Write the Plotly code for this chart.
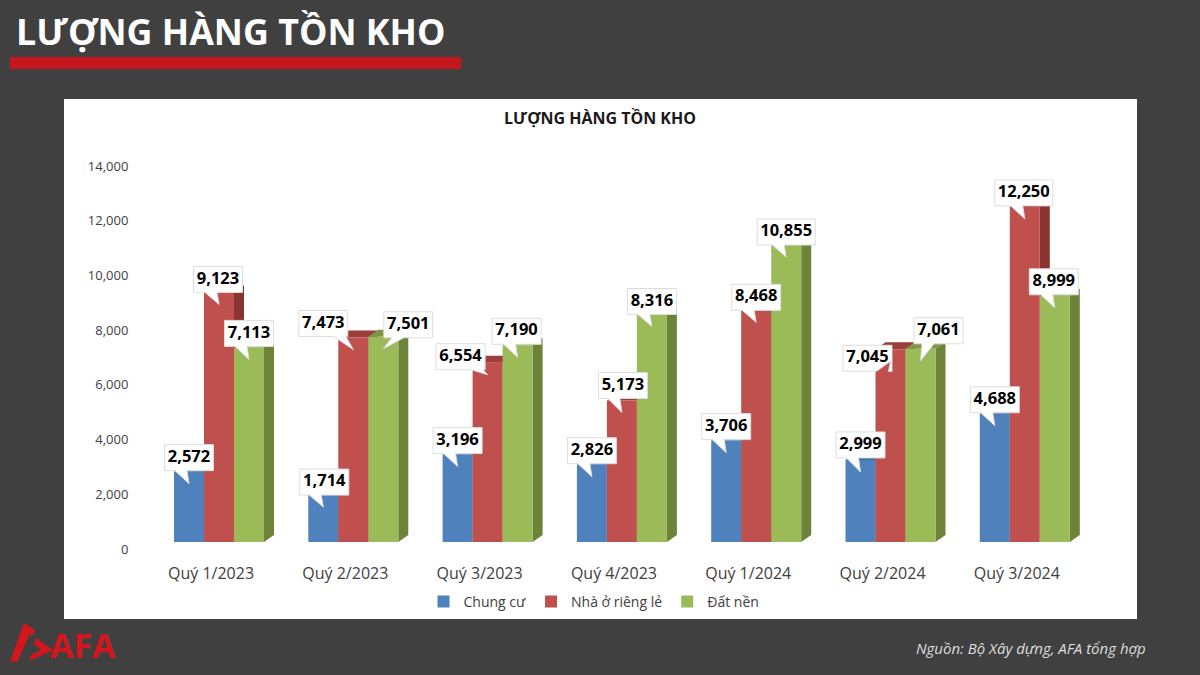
import plotly.graph_objects as go

categories = ["Quý 1/2023", "Quý 2/2023", "Quý 3/2023", "Quý 4/2023", "Quý 1/2024", "Quý 2/2024", "Quý 3/2024"]
chung_cu = [2572, 1714, 3196, 2826, 3706, 2999, 4688]
nha_o = [9123, 7473, 6554, 5173, 8468, 7045, 12250]
dat_nen = [7113, 7501, 7190, 8316, 10855, 7061, 8999]
y_ticks = [0, 2000, 4000, 6000, 8000, 10000, 12000, 14000]

series_names = ["Chung cư", "Nhà ở riêng lẻ", "Đất nền"]
series_values = [chung_cu, nha_o, dat_nen]
front_colors = ["#4F81BD", "#C0504D", "#9BBB59"]
side_colors = ["#3A6291", "#8A3432", "#6C8339"]
top_colors = ["#41699A", "#9A3D3B", "#7C9643"]

# callout box offset (px): box centre relative to the bar's top centre
label_dx = [[0, 1, 0, 0, 0, 0, 0], [-1, -30, -27, 1, 0, -23, -1], [0, 25, -1, 0, 0, 18, -1]]
label_dy = [[14, 13, 14, 14, 14, 15, 14], [13, 14, 6, 15, 13, -9, 14], [14, 12, 14, 13, 13, 18, 14]]

W, H = 1200, 675
PX_PER_CAT = 134.3
PX_PER_UNIT = 383 / 14000
XL, XR = 133, 1110
YB, YT = 549, 150
LABEL_CENTER0 = 211
GROUP_CENTER0 = 219
BASE_PX = 542
BAR_PX = 30
DEPTH_X, DEPTH_Y = 10, 7

dxu = lambda px: px / PX_PER_CAT
dyu = lambda px: px / PX_PER_UNIT
idx = list(range(len(categories)))
y_span = (YB - YT) / PX_PER_UNIT


def P(x, y):
    return f"{x / W:.5f},{1 - y / H:.5f}"


def poly(points):
    return "M" + " L".join(P(*p) for p in points) + " Z"


fig = go.Figure()

# label axes carrier (invisible)
fig.add_trace(go.Scatter(x=[0], y=[0], mode="markers", marker=dict(opacity=0), showlegend=False,
                         hoverinfo="skip", xaxis="x", yaxis="y"))

# depth faces
for k in range(3):
    vals = series_values[k]
    sx, sy, tx, ty = [], [], [], []
    for i in idx:
        c = i + dxu((k - 1) * BAR_PX)
        r = c + dxu(BAR_PX / 2)
        l = c - dxu(BAR_PX / 2)
        v = vals[i]
        sx += [r, r + dxu(DEPTH_X), r + dxu(DEPTH_X), r, None]
        sy += [0, dyu(DEPTH_Y), v + dyu(DEPTH_Y), v, None]
        tx += [l, r, r + dxu(DEPTH_X), l + dxu(DEPTH_X), None]
        ty += [v, v, v + dyu(DEPTH_Y), v + dyu(DEPTH_Y), None]
    for px_, py_, col in ((sx, sy, side_colors[k]), (tx, ty, top_colors[k])):
        fig.add_trace(go.Scatter(x=px_, y=py_, mode="lines", fill="toself", fillcolor=col,
                                 line=dict(width=0, color=col), showlegend=False, hoverinfo="skip",
                                 xaxis="x2", yaxis="y2"))

# front faces
for k in range(3):
    fig.add_trace(go.Bar(x=[i + dxu((k - 1) * BAR_PX) for i in idx], y=series_values[k],
                         width=dxu(BAR_PX), name=series_names[k], marker=dict(color=front_colors[k], line=dict(width=0)),
                         xaxis="x3", yaxis="y3"))

# callouts
cx, cy, tx_, ty_, txt = [], [], [], [], []
for k in range(3):
    for i in idx:
        v = series_values[k][i]
        label = f"{v:,}"
        bw = 58 if len(label) > 5 else 49
        bh = 26
        c = dxu((k - 1) * BAR_PX) + i
        bx = c + dxu(label_dx[k][i])
        by = v + dyu(label_dy[k][i])
        left = bx - dxu(bw / 2)
        right = bx + dxu(bw / 2)
        bot = by - dyu(bh / 2)
        top = by + dyu(bh / 2)
        tip_x, tip_y = c, v - dyu(12)
        base = max(left + dxu(8), min(tip_x - dxu(14), right - dxu(14)))
        cx += [left, right, right, base + dxu(12), tip_x, base, left, left, None]
        cy += [top, top, bot, bot, tip_y, bot, bot, top, None]
        tx_.append(bx)
        ty_.append(by)
        txt.append(label)

fig.add_trace(go.Scatter(x=cx, y=cy, mode="lines", fill="toself", fillcolor="#FFFFFF",
                         line=dict(width=1, color="#DDDDDD"), showlegend=False, hoverinfo="skip",
                         xaxis="x3", yaxis="y3"))
fig.add_trace(go.Scatter(x=tx_, y=ty_, mode="text", text=txt, textposition="middle center",
                         textfont=dict(family="Open Sans", size=16.5, color="#000000", weight="bold"),
                         showlegend=False, hoverinfo="skip", xaxis="x3", yaxis="y3"))

shapes = [
    dict(type="rect", xref="paper", yref="paper", x0=64 / W, x1=1137 / W, y0=1 - 619 / H, y1=1 - 99 / H,
         fillcolor="#FFFFFF", line=dict(width=0), layer="below"),
    dict(type="rect", xref="paper", yref="paper", x0=10 / W, x1=461 / W, y0=1 - 69 / H, y1=1 - 57 / H,
         fillcolor="#C4161C", line=dict(width=0), layer="below"),
    dict(type="path", xref="paper", yref="paper",
         path=poly([(24, 623), (35, 630), (33, 636), (30, 634), (17, 662), (10, 661)]),
         fillcolor="#D2161E", line=dict(width=0), layer="below"),
    dict(type="path", xref="paper", yref="paper",
         path=poly([(36, 638), (53, 650), (29, 661), (31, 655), (41, 650), (34, 644)]),
         fillcolor="#D2161E", line=dict(width=0), layer="below"),
]

annotations = [
    dict(text="<b>LƯỢNG HÀNG TỒN KHO</b>", xref="paper", yref="paper", x=14 / W, y=1 - 31 / H,
         xanchor="left", yanchor="middle", showarrow=False,
         font=dict(family="Open Sans", size=35.8, color="#FFFFFF")),
    dict(text="<b>LƯỢNG HÀNG TỒN KHO</b>", xref="paper", yref="paper", x=600 / W, y=1 - 118 / H,
         xanchor="center", yanchor="middle", showarrow=False,
         font=dict(family="Open Sans", size=16, color="#1A1A1A")),
    dict(text="<i>Nguồn: Bộ Xây dựng, AFA tổng hợp</i>", xref="paper", yref="paper", x=1148 / W, y=1 - 648 / H,
         xanchor="right", yanchor="middle", showarrow=False,
         font=dict(family="Open Sans", size=15, color="#DDDDDD")),
    dict(text="<b>AFA</b>", xref="paper", yref="paper", x=48 / W, y=1 - 645 / H,
         xanchor="left", yanchor="middle", showarrow=False,
         font=dict(family="Open Sans", size=34, color="#D2161E")),
]

dom_x = [XL / W, XR / W]
dom_y = [1 - YB / H, 1 - YT / H]
x_rng_main = [(XL - LABEL_CENTER0) / PX_PER_CAT, (XR - LABEL_CENTER0) / PX_PER_CAT]
x_rng_over = [(XL - GROUP_CENTER0) / PX_PER_CAT, (XR - GROUP_CENTER0) / PX_PER_CAT]
y_rng_main = [0, y_span]
y_rng_over = [dyu(BASE_PX - YB), y_span + dyu(BASE_PX - YB)]
hidden = dict(visible=False, showgrid=False, zeroline=False, fixedrange=True)

fig.update_layout(
    width=W, height=H, margin=dict(l=0, r=0, t=0, b=0, autoexpand=False), autosize=False,
    paper_bgcolor="#404040", plot_bgcolor="rgba(0,0,0,0)",
    barmode="overlay", shapes=shapes, annotations=annotations,
    font=dict(family="Open Sans", color="#404040"),
    xaxis=dict(domain=dom_x, range=x_rng_main, tickmode="array", tickvals=idx, ticktext=categories,
               showgrid=False, zeroline=False, showline=False, ticks="outside", ticklen=10,
               tickcolor="rgba(0,0,0,0)", tickfont=dict(family="Open Sans", size=16, color="#404040")),
    yaxis=dict(domain=dom_y, range=y_rng_main, tickmode="array", tickvals=y_ticks, tickformat=",d",
               showgrid=False, zeroline=False, showline=False, ticks="outside", ticklen=1,
               tickcolor="rgba(0,0,0,0)", tickfont=dict(family="Open Sans", size=13, color="#404040")),
    xaxis2=dict(overlaying="x", range=x_rng_over, **hidden),
    yaxis2=dict(overlaying="y", range=y_rng_over, **hidden),
    xaxis3=dict(overlaying="x", range=x_rng_over, **hidden),
    yaxis3=dict(overlaying="y", range=y_rng_over, **hidden),
    legend=dict(orientation="h", x=594 / W, y=1 - 602 / H, xanchor="center", yanchor="middle",
                bgcolor="rgba(0,0,0,0)", font=dict(family="Open Sans", size=14, color="#404040"),
                itemwidth=30),
)

fig.write_html("out.html", config={"displayModeBar": False},
               post_script="document.documentElement.style.margin='0';document.body.style.margin='0';document.body.style.overflow='hidden';window.dispatchEvent(new Event('resize'));")
